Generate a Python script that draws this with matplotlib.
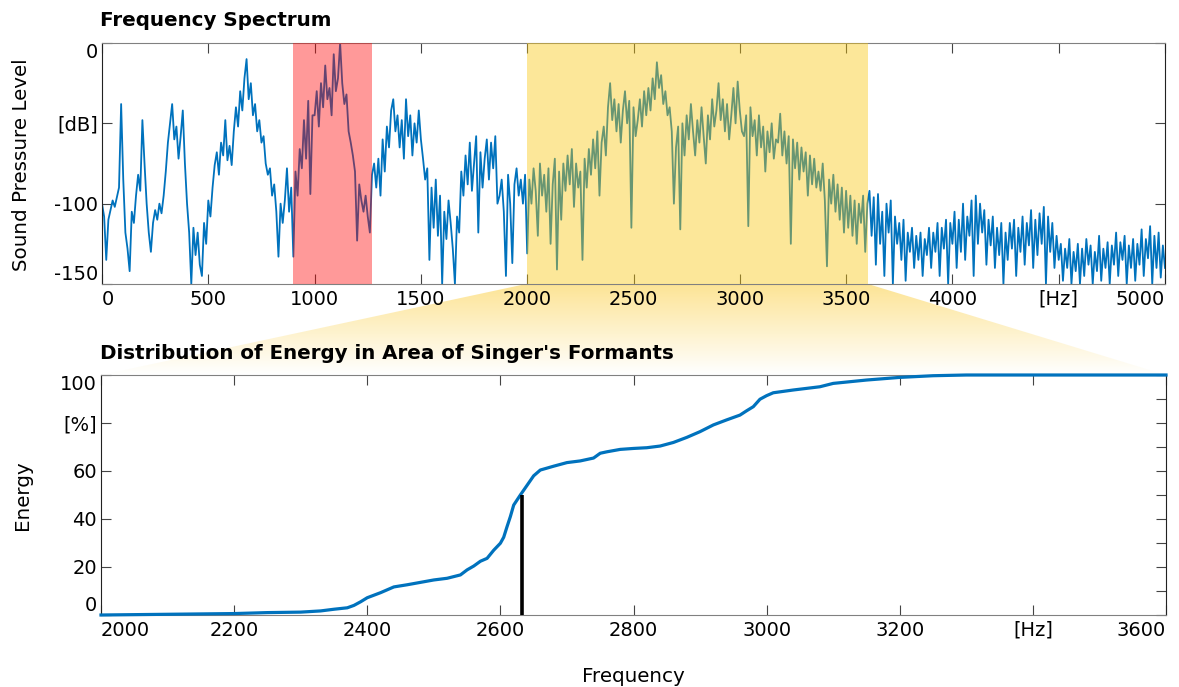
import numpy as np
import matplotlib
matplotlib.use("Agg")
import matplotlib.pyplot as plt
from matplotlib.patches import Polygon
from matplotlib.ticker import MultipleLocator

# spectrum, every 10 Hz (dB), rows of 250 Hz
freq_step = 10
spl_db = [
    -100, -108, -135, -110, -104, -98, -102, -96, -90, -38, -85, -118, -128, -142, -105, -112, -95, -82, -92, -48, -75, -100, -118, -130, -112,
    -104, -110, -100, -106, -95, -80, -62, -50, -38, -60, -52, -72, -58, -42, -75, -100, -118, -150, -115, -132, -118, -138, -145, -112, -125,
    -98, -108, -90, -76, -68, -82, -62, -70, -48, -73, -64, -76, -55, -40, -52, -30, -42, -22, -10, -35, -25, -45, -38, -55, -48,
    -62, -58, -75, -82, -78, -95, -88, -105, -133, -100, -112, -98, -78, -105, -90, -133, -80, -95, -66, -78, -48, -72, -36, -94, -45,
    -45, -30, -52, -25, -40, -14, -35, -28, -45, -7, -30, -22, 0, -25, -38, -32, -55, -62, -70, -80, -123, -88, -98, -105, -95,
    -108, -118, -82, -75, -90, -72, -95, -60, -80, -52, -65, -42, -35, -55, -45, -65, -48, -72, -35, -58, -45, -70, -50, -62, -42,
    -60, -72, -85, -78, -135, -90, -115, -85, -120, -95, -150, -105, -122, -98, -112, -128, -150, -108, -118, -80, -95, -70, -88, -62, -92,
    -75, -58, -118, -68, -90, -72, -60, -85, -62, -78, -58, -100, -95, -85, -105, -145, -82, -100, -137, -88, -78, -95, -85, -100, -82,
    -131, -85, -100, -78, -92, -120, -75, -95, -82, -105, -78, -125, -88, -72, -141, -80, -110, -75, -92, -70, -88, -66, -102, -75, -90,
    -80, -135, -72, -90, -66, -82, -60, -78, -55, -95, -62, -52, -70, -40, -25, -48, -35, -55, -38, -62, -42, -30, -50, -36, -115,
    -40, -58, -48, -35, -52, -30, -45, -28, -42, -22, -35, -12, -28, -20, -38, -30, -45, -40, -55, -100, -65, -52, -116, -50, -70,
    -45, -60, -38, -55, -70, -48, -62, -40, -58, -75, -45, -60, -35, -52, -42, -25, -48, -35, -55, -38, -60, -45, -28, -50, -24,
    -42, -55, -58, -45, -114, -40, -58, -48, -70, -45, -65, -52, -80, -55, -68, -50, -72, -60, -62, -44, -70, -55, -75, -58, -125,
    -60, -78, -62, -85, -65, -80, -68, -95, -70, -88, -72, -90, -80, -92, -75, -98, -139, -85, -100, -82, -105, -88, -110, -90, -118,
    -92, -115, -95, -120, -98, -125, -100, -112, -95, -130, -100, -92, -120, -96, -138, -94, -125, -105, -145, -100, -118, -98, -150, -108, -125,
    -112, -135, -110, -148, -118, -130, -115, -140, -120, -135, -118, -145, -122, -132, -115, -140, -118, -130, -112, -145, -115, -128, -110, -150, -112,
    -125, -105, -140, -110, -130, -100, -135, -108, -120, -98, -145, -95, -125, -100, -118, -104, -138, -110, -126, -108, -140, -115, -132, -112, -150,
    -118, -135, -112, -128, -110, -145, -115, -130, -108, -138, -112, -126, -104, -140, -110, -132, -106, -125, -102, -150, -108, -130, -112, -140, -120,
    -135, -125, -148, -128, -140, -122, -150, -130, -142, -125, -150, -128, -145, -122, -138, -126, -150, -130, -142, -120, -148, -128, -140, -124, -150,
    -126, -138, -118, -145, -124, -135, -120, -150, -126, -140, -122, -148, -125, -138, -116, -145, -122, -134, -114, -150, -120, -140, -118, -146, -126,
    -140,
]
spl_freq = np.arange(len(spl_db)) * freq_step

red_band = (900, 1268)
yellow_band = (2000, 3605)

# cumulative energy in the singer's formant area
energy_freq = [2000, 2100, 2200, 2250, 2300, 2330, 2350, 2370, 2380, 2390,
               2400, 2420, 2440, 2460, 2480, 2500, 2520, 2540, 2550, 2560,
               2570, 2580, 2590, 2600, 2605, 2610, 2615, 2620, 2630, 2640,
               2650, 2660, 2680, 2700, 2720, 2740, 2750, 2760, 2780, 2800,
               2820, 2840, 2860, 2880, 2900, 2920, 2940, 2960, 2970, 2980,
               2990, 3000, 3010, 3040, 3080, 3100, 3150, 3200, 3250, 3300,
               3400, 3500, 3600]
energy_pct = [0, 0.3, 0.6, 1, 1.2, 1.7, 2.4, 3, 4, 5.5,
              7.2, 9.3, 11.7, 12.6, 13.6, 14.6, 15.3, 16.7, 18.8, 20.4,
              22.4, 23.6, 27, 29.9, 32.4, 36.8, 41, 45.8, 50, 54,
              58, 60.4, 62, 63.5, 64.2, 65.4, 67.4, 68, 69, 69.4,
              69.7, 70.4, 71.9, 74, 76.4, 79.2, 81.3, 83.3, 85.1, 86.8,
              89.9, 91.4, 92.6, 93.75, 95.1, 96.5, 97.9, 99, 99.7, 100,
              100, 100, 100]
median_freq = 2632

top_xticks = [0, 500, 1000, 1500, 2000, 2500, 3000, 3500, 4000, 4500, 5000]
top_xlabels = ["0", "500", "1000", "1500", "2000", "2500", "3000", "3500", "4000", "[Hz]", "5000"]
top_yticks = [-150, -100, -50, 0]
top_ylabels = ["-150", "-100", "[dB]", "0"]
bot_xticks = [2000, 2200, 2400, 2600, 2800, 3000, 3200, 3400, 3600]
bot_xlabels = ["2000", "2200", "2400", "2600", "2800", "3000", "3200", "[Hz]", "3600"]
bot_yticks = [0, 20, 40, 60, 80, 100]
bot_ylabels = ["0", "20", "40", "60", "[%]", "100"]

W, H = 1179, 687
BLUE = "#0072BD"
FS = 14.3
TICK_FS = 14


def px_axes(fig, x0, y0, x1, y1, **kw):
    return fig.add_axes([x0 / W, 1 - y1 / H, (x1 - x0) / W, (y1 - y0) / H], **kw)


def style_axes(ax):
    ax.set_facecolor("none")
    ax.tick_params(which="both", direction="in", length=7, width=0.8,
                   colors="#444444", labelcolor="black", labelsize=TICK_FS,
                   top=True, right=True)
    ax.tick_params(axis="x", pad=4)
    ax.tick_params(axis="y", pad=3)
    for side in ("left", "right"):
        ax.spines[side].set_color("#222222")
    for side in ("top", "bottom"):
        ax.spines[side].set_color("#808080")


def edge_labels(ax):
    xl = ax.get_xticklabels()
    xl[0].set_ha("left")
    xl[-1].set_ha("right")
    yl = ax.get_yticklabels()
    yl[0].set_va("bottom")
    yl[-1].set_va("top")


fig = plt.figure(figsize=(W / 100, H / 100), dpi=100)

# fan between the two panels
bg = fig.add_axes([0, 0, 1, 1], zorder=0)
bg.set_xlim(0, W)
bg.set_ylim(H, 0)
bg.axis("off")
fan = Polygon([(526, 284), (868, 284), (1166, 375), (101, 375)], closed=True,
              facecolor="none", edgecolor="none")
bg.add_patch(fan)
grad = np.zeros((100, 2, 4))
grad[..., 0] = 0.99
grad[..., 1] = 0.86
grad[..., 2] = 0.45
grad[..., 3] = np.linspace(0.75, 0.0, 100)[:, None]
img = bg.imshow(grad, extent=[101, 1166, 375, 284], aspect="auto", interpolation="bilinear")
img.set_clip_path(fan)

# top: frequency spectrum
ax1 = px_axes(fig, 102, 43, 1165, 284, zorder=2)
ax1.plot(spl_freq, spl_db, color=BLUE, lw=1.3, zorder=2)
ax1.axvspan(*red_band, color="red", alpha=0.4, lw=0, zorder=3)
ax1.axvspan(*yellow_band, color="#FAC80C", alpha=0.42, lw=0, zorder=3)
ax1.set_xlim(0, 5000)
ax1.set_ylim(-150, 0)
ax1.set_xticks(top_xticks)
ax1.set_xticklabels(top_xlabels)
ax1.set_yticks(top_yticks)
ax1.set_yticklabels(top_ylabels)
style_axes(ax1)
edge_labels(ax1)

# bottom: distribution of energy
ax2 = px_axes(fig, 101, 375, 1166, 615, zorder=2)
ax2.plot(energy_freq, energy_pct, color=BLUE, lw=2.3, clip_on=False, zorder=3)
ax2.vlines(median_freq, 0, 50, color="black", lw=2.6, zorder=4)
ax2.set_xlim(2000, 3600)
ax2.set_ylim(0, 100)
ax2.set_xticks(bot_xticks)
ax2.set_xticklabels(bot_xlabels)
ax2.set_yticks(bot_yticks)
ax2.set_yticklabels(bot_ylabels)
ax2.yaxis.set_minor_locator(MultipleLocator(10))
style_axes(ax2)
ax2.tick_params(which="minor", left=False, right=True)
edge_labels(ax2)

fig.text(100 / W, 1 - 20 / H, "Frequency Spectrum", fontsize=FS, fontweight="bold",
         ha="left", va="center")
fig.text(100 / W, 1 - 353 / H, "Distribution of Energy in Area of Singer's Formants",
         fontsize=FS, fontweight="bold", ha="left", va="center")
fig.text(22 / W, 1 - 165 / H, "Sound Pressure Level", fontsize=FS, rotation=90,
         ha="center", va="center")
fig.text(22 / W, 1 - 495 / H, "Energy", fontsize=FS, rotation=90, ha="center", va="center")
fig.text(633 / W, 1 - 676 / H, "Frequency", fontsize=FS, ha="center", va="center")

fig.savefig("out.png", dpi=100)
